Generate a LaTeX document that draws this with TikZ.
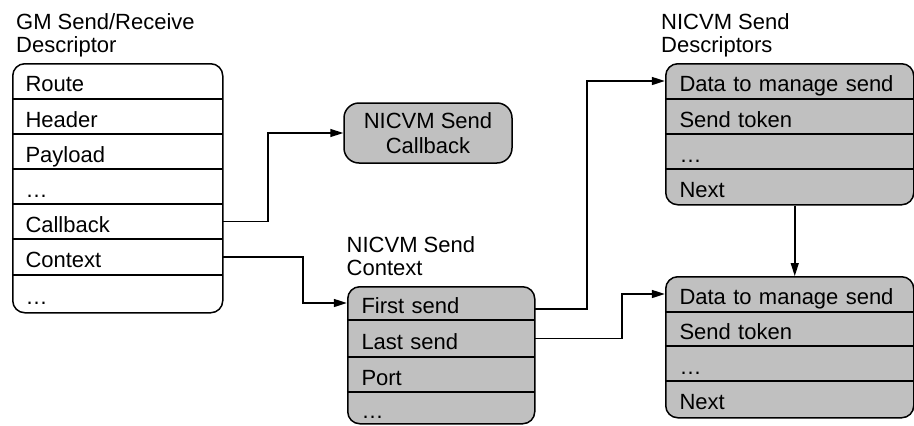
\documentclass[tikz,border=0pt]{standalone}
\usepackage{fontspec}
\setmainfont{Liberation Sans}
\usetikzlibrary{arrows.meta}
\definecolor{boxgray}{RGB}{192,192,192}
\begin{document}
\begin{tikzpicture}[x=1pt,y=-1pt,
  every node/.style={font=\fontsize{22}{23}\selectfont},
  outerbox/.style={draw, line width=1.5pt, rounded corners=12pt, inner sep=0pt, anchor=north west},
  grayfill/.style={fill=boxgray},
  rowbox/.style={inner ysep=0pt, align=left, text height=21pt, text depth=0pt},
  gmrow/.style={rowbox, inner xsep=13.5pt, text width=183pt},
  ctxrow/.style={rowbox, inner xsep=14.5pt, text width=158pt},
  descrow/.style={rowbox, inner xsep=14.5pt, text width=219pt},
  sepline/.style={line width=1.5pt},
  title/.style={anchor=north west, align=left, inner sep=0pt},
  conn/.style={line width=1.5pt, -{Triangle[length=13pt,width=8pt]}}
]
\useasboundingbox (0,0) rectangle (914,426);

% ---------- titles ----------
\node[title] (gm-title) at (16,13.5) {GM Send/Receive\\Descriptor};
\node[title] (d1-title) at (661,13.5) {NICVM Send\\Descriptors};
\node[title] (ctx-title) at (346.5,236) {NICVM Send\\Context};

% ---------- GM send/receive descriptor ----------
\node[outerbox, minimum width=210pt, minimum height=249pt] (gm) at (12,63) {};
\node[gmrow, minimum height=36pt] (gm-route) at (117,81) {Route};
\node[gmrow, minimum height=35pt] (gm-header) at (117,116.5) {Header};
\node[gmrow, minimum height=35pt] (gm-payload) at (117,151.5) {Payload};
\node[gmrow, minimum height=35pt] (gm-dots1) at (117,186.5) {\dots};
\node[gmrow, minimum height=35pt] (gm-cb) at (117,221.5) {Callback};
\node[gmrow, minimum height=36pt] (gm-ctx) at (117,257) {Context};
\node[gmrow, minimum height=37pt] (gm-dots2) at (117,293.5) {\dots};
\foreach \r in {gm-route,gm-header,gm-payload,gm-dots1,gm-cb,gm-ctx}
  \draw[sepline] (\r.south west) -- (\r.south east);

% ---------- NICVM send callback ----------
\node[draw, grayfill, line width=1.5pt, rounded corners=15pt, minimum width=168pt,
      minimum height=60pt, align=center, inner sep=0pt,
      font=\fontsize{22}{25}\selectfont] (cbk) at (428,133) {NICVM Send\\Callback};

% ---------- NICVM send context ----------
\node[outerbox, grayfill, minimum width=187pt, minimum height=137pt] (ctx) at (347,286) {};
\node[ctxrow, minimum height=34pt] (ctx-first) at (440.5,303) {First send};
\node[ctxrow, minimum height=37pt] (ctx-last) at (440.5,338.5) {Last send};
\node[ctxrow, minimum height=35pt] (ctx-port) at (440.5,374.5) {Port};
\node[ctxrow, minimum height=31pt] (ctx-dots) at (440.5,407.5) {\dots};
\foreach \r in {ctx-first,ctx-last,ctx-port}
  \draw[sepline] (\r.south west) -- (\r.south east);

% ---------- NICVM send descriptors (top) ----------
\node[outerbox, grayfill, minimum width=248pt, minimum height=141pt] (d1) at (665,63) {};
\node[descrow, minimum height=36pt] (d1-data) at (789,81) {Data to manage send};
\node[descrow, minimum height=35pt] (d1-token) at (789,116.5) {Send token};
\node[descrow, minimum height=35pt] (d1-dots) at (789,151.5) {\dots};
\node[descrow, minimum height=35pt] (d1-next) at (789,186.5) {Next};
\foreach \r in {d1-data,d1-token,d1-dots}
  \draw[sepline] (\r.south west) -- (\r.south east);

% ---------- NICVM send descriptors (bottom) ----------
\node[outerbox, grayfill, minimum width=248pt, minimum height=141pt] (d2) at (665,276) {};
\node[descrow, minimum height=36pt] (d2-data) at (789,294) {Data to manage send};
\node[descrow, minimum height=34pt] (d2-token) at (789,329) {Send token};
\node[descrow, minimum height=35pt] (d2-dots) at (789,363.5) {\dots};
\node[descrow, minimum height=36pt] (d2-next) at (789,399) {Next};
\foreach \r in {d2-data,d2-token,d2-dots}
  \draw[sepline] (\r.south west) -- (\r.south east);

% ---------- connectors ----------
\draw[conn] (gm-cb.east) -- ++(46,0) |- (cbk.west);
\draw[conn] (gm-ctx.east) -- ++(81,0) |- (ctx-first.west);
\draw[conn] ([yshift=-6pt]ctx-first.east) -- ++(53,0) |- (d1-data.west);
\draw[conn] (ctx-last.east) -- ++(88,0) |- (d2-data.west);
\draw[conn] ([xshift=5pt]d1.south) -- ([xshift=5pt]d2.north);
\end{tikzpicture}
\end{document}
